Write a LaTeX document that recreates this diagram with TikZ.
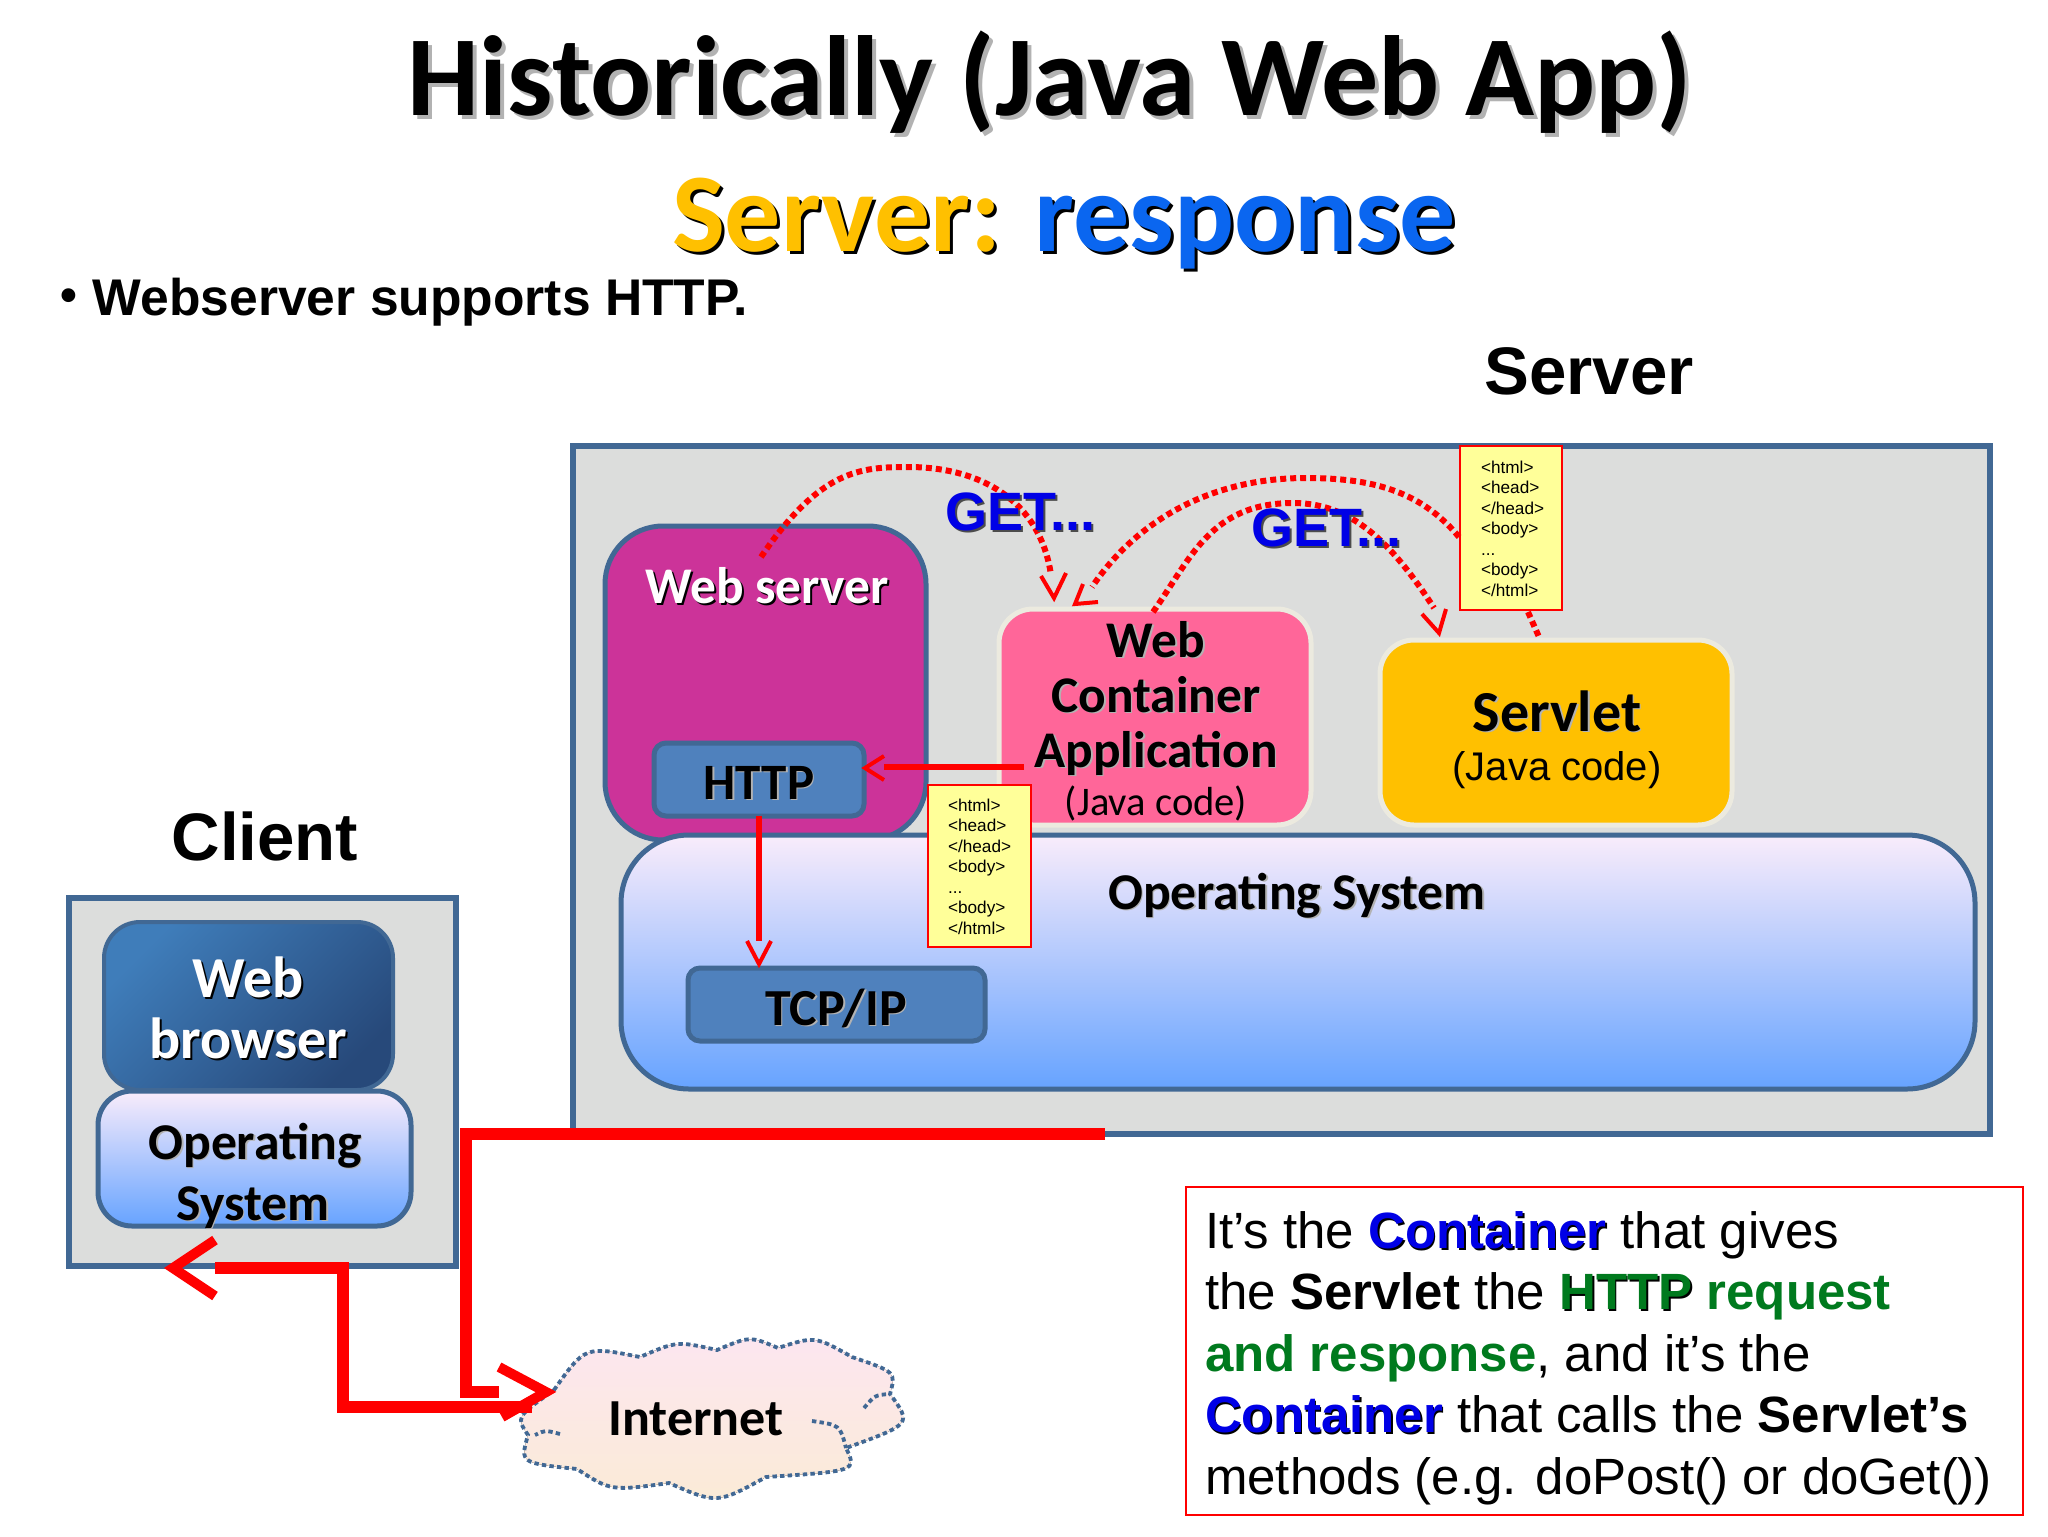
\documentclass[tikz,border=0pt]{standalone}
\usepackage{fontspec}
\usetikzlibrary{fit}
\setmainfont{Liberation Sans}
\newfontfamily\calfont{Carlito}
\definecolor{bord}{HTML}{416894}
\definecolor{panel}{HTML}{DCDDDC}
\definecolor{wsfill}{HTML}{CC3399}
\definecolor{wcfill}{HTML}{FF6699}
\definecolor{slfill}{HTML}{FFC000}
\definecolor{hfill}{HTML}{4F81BD}
\definecolor{osA}{HTML}{F9ECFB}
\definecolor{osB}{HTML}{66A3FF}
\definecolor{docf}{HTML}{FFFF99}
\definecolor{resp}{HTML}{0A66F0}
\definecolor{grn}{HTML}{007A1E}
\definecolor{getb}{HTML}{0000E6}
\definecolor{redl}{HTML}{FF0000}
\definecolor{cream}{HTML}{ECEADF}
\definecolor{brA}{HTML}{3F7DBA}
\definecolor{brB}{HTML}{27497A}
\definecolor{clA}{HTML}{FCE6F0}
\definecolor{clB}{HTML}{FBEBD6}
\newcommand{\shad}[4]{\leavevmode\rlap{\kern#1\raisebox{-#1}{\textcolor{#2}{#4}}}\textcolor{#3}{#4}}
\newcommand{\doclines}{<html>\\<head>\\</head>\\<body>\\...\\<body>\\</html>}
\newcommand{\cloudpath}{(554,1390) .. controls (585,1346) .. (640,1357) .. controls (677,1341) .. (717,1350)
  .. controls (750,1336) .. (778,1348) .. controls (815,1336) .. (852,1357)
  .. controls (896,1372) .. (890,1394) .. controls (912,1424) .. (846,1448)
  .. controls (857,1471) .. (766,1477) .. controls (717,1504) .. (669,1483)
  .. controls (611,1491) .. (577,1469) .. controls (520,1463) .. (528,1435)
  .. controls (516,1417) .. (554,1390) -- cycle}
\tikzset{
  every node/.style={inner sep=0pt,outer sep=0pt},
  px/.style={x=0.5pt,y=-0.5pt},
  panelbox/.style={draw=bord,fill=panel,line width=3pt},
  wsbox/.style={draw=bord,fill=wsfill,line width=2.5pt,rounded corners=29pt},
  softbox/.style={draw=cream,fill=#1,line width=2.5pt,rounded corners=17pt},
  hbox/.style={draw=bord,fill=hfill,line width=2.5pt,rounded corners=6pt},
  osbox/.style={draw=bord,top color=osA,bottom color=osB,line width=2.5pt,rounded corners=#1},
  brbox/.style={draw=bord,top color=brA,bottom color=brB,shading angle=45,line width=2pt,rounded corners=18pt},
  docbox/.style={draw=redl,fill=docf,line width=1.2pt},
  doctext/.style={font=\fontsize{8.6}{10.25}\selectfont,align=left,anchor=north west},
  calb/.style={font=\calfont\bfseries\fontsize{#1}{#1}\selectfont,anchor=base},
  arl/.style={font=\bfseries\fontsize{#1}{#1}\selectfont,anchor=base},
  fatred/.style={draw=redl,line width=6pt},
  wing/.style={draw=redl,line width=2pt},
  thinred/.style={draw=redl,line width=2.6pt},
  dotred/.style={draw=redl,line width=3pt,dash pattern=on 3pt off 2pt},
  clouddot/.style={draw=bord,line width=1.9pt,dash pattern=on 2.2pt off 1.6pt},
}
\begin{document}
\begin{tikzpicture}[px]
\useasboundingbox[fill=white] (0,0) rectangle (2048,1536);
% titles
\node[calb=57] (title) at (1050,115) {\shad{2pt}{black!30}{black}{Historically (Java Web App)}};
\node[calb=56,anchor=base] (sub) at (1064,251) {\shad{1.5pt}{black}{slfill}{Server:} \shad{1.5pt}{black}{resp}{response}};
\node[arl=25.8,anchor=base west] (bullet) at (60,315) {\raisebox{2pt}{\fontsize{24}{24}\selectfont •}\hspace{8pt}Webserver supports HTTP.};
\node[arl=33.6] (serverlabel) at (1589,394) {Server};
\node[arl=33.6] (clientlabel) at (265,860) {Client};
% server
\node[panelbox,fit={(573,446)(1990,1134)}] (server) {};
\node[wsbox,fit={(605,526)(926,840)}] (webserver) {};
\node[osbox=34pt,fit={(621,835)(1975,1089)}] (os) {};
\node[softbox=wcfill,fit={(999,609)(1311,825)}] (container) {};
\node[softbox=slfill,fit={(1380,640)(1732,825)}] (servlet) {};
\node[hbox,fit={(654,743)(864,816)}] (http) {};
\node[hbox,fit={(688,968)(985,1041)}] (tcp) {};
\node[calb=25.7,text=white] (t1) at (767,603) {\shad{1pt}{black}{white}{Web server}};
\node[calb=25.7] (t2) at (1156,657) {\shad{0.8pt}{black!30}{black}{Web}};
\node[calb=25.7] (t3) at (1156,712) {\shad{0.8pt}{black!30}{black}{Container}};
\node[calb=25.7] (t4) at (1156,767) {\shad{0.8pt}{black!30}{black}{Application}};
\node[font=\calfont\fontsize{20.3}{20.3}\selectfont,anchor=base] (t5) at (1156,815) {(Java code)};
\node[calb=25.5] (t6) at (759,799) {\shad{0.8pt}{black!30}{black}{HTTP}};
\node[calb=29] (t7) at (1557,731) {\shad{0.8pt}{black!30}{black}{Servlet}};
\node[font=\fontsize{20}{20}\selectfont,anchor=base] (t8) at (1557,780) {(Java code)};
\node[calb=25.8] (t9) at (1297,909) {\shad{0.8pt}{black!30}{black}{Operating System}};
\node[calb=26] (t10) at (836,1025) {\shad{0.8pt}{black!30}{black}{TCP/IP}};
% client
\node[panelbox,fit={(69,898)(456,1266)}] (client) {};
\node[brbox,fit={(104,922)(393,1090)}] (browser) {};
\node[osbox=17pt,fit={(98,1091)(411,1226)}] (clientos) {};
\node[calb=29] (c1) at (248,997) {\shad{1pt}{black}{white}{Web}};
\node[calb=29] (c2) at (248,1058) {\shad{1pt}{black}{white}{browser}};
\node[calb=25.8] (c3) at (255,1159) {\shad{0.8pt}{black!30}{black}{Operating}};
\node[calb=25.8] (c4) at (253,1220) {\shad{0.8pt}{black!30}{black}{System}};
% cloud
\fill[top color=clA,bottom color=clB] \cloudpath;
\draw[clouddot] \cloudpath;
\draw[clouddot] (812,1421) .. controls (840,1425) .. (846,1448);
\draw[clouddot] (864,1408) .. controls (875,1395) .. (890,1394);
\draw[clouddot] (560,1434) .. controls (545,1430) .. (535,1435);
\node[calb=26] (internet) at (696,1435) {Internet};
\coordinate (inTip) at (546,1392);
% thick red
\coordinate (hStart) at (1105,1134);
\coordinate (hCorner) at (466,1134);
\coordinate (hDown) at (466,1392);
\coordinate (hEnd) at (499,1392);
\draw[fatred,miter limit=10] (hStart) -- (hCorner) -- (hDown) -- (hEnd);
\coordinate (cTip) at (173,1268);
\coordinate (cStart) at (215,1268);
\draw[fatred] (cStart) -- (343,1268) -- (343,1407) -- (532,1407);
\draw[fatred,line width=5pt] (215,1240) -- (cTip) -- (215,1296);
\draw[fatred,line width=5pt] (499,1367) -- (inTip) -- (502,1417);
% thin red
\coordinate (htB) at (884,767);
\coordinate (htTip) at (865,768);
\draw[thinred] (1024,767) -- (htB);
\draw[wing] (884,756) -- (htTip) -- (884,780);
\coordinate (tcpEnd) at (759,941);
\coordinate (tcpTip) at (759,964);
\draw[thinred] (http.south) -- (tcpEnd);
\draw[wing] (747,941) -- (tcpTip) -- (771,941);
% docs
\node[docbox,fit={(928,785)(1031,947)}] (doc1) {};
\node[docbox,fit={(1460,446)(1562,610)}] (doc2) {};
\node[doctext] (d1t) at (948,799) {\doclines};
\node[doctext] (d2t) at (1481,461) {\doclines};
% dotted
\draw[dotred] (761,557) .. controls (820,470) and (860,467) .. (908,467) .. controls (980,467) and (1040,500) .. (1051,575);
\draw[wing] (1041,576) -- (1054,598) -- (1066,573);
\draw[dotred] (1459,537) .. controls (1420,490) and (1370,478) .. (1306,478) .. controls (1200,478) and (1130,530) .. (1092,587);
\draw[wing] (1098,602) -- (1075,604) -- (1083,584);
\draw[dotred] (1153,612) .. controls (1190,560) and (1210,503) .. (1293,503) .. controls (1350,503) and (1390,540) .. (1434,608);
\draw[wing] (1422,614) -- (1439,633) -- (1446,609);
\draw[dotred] (1528,612) -- (1539,637);
\node[arl=27] (get1) at (1020,530) {\shad{1pt}{black!70}{getb}{GET...}};
\node[arl=27] (get2) at (1326,546) {\shad{1pt}{black!70}{getb}{GET...}};
% text box
\node[draw=redl,line width=1.2pt,fit={(1186,1187)(2023,1515)}] (note) {};
\node[font=\fontsize{25.5}{30.7}\selectfont,align=left,anchor=base west] (notetext) at (1205,1494) {%
It’s the \shad{0.8pt}{black}{getb}{\bfseries Container} that gives\\
the {\bfseries Servlet} the \shad{0.8pt}{black}{grn}{\bfseries HTTP} \textcolor{grn}{\bfseries request}\\
\textcolor{grn}{\bfseries and response}, and it’s the\\
\shad{0.8pt}{black}{getb}{\bfseries Container} that calls the {\bfseries Servlet’s}\\
methods (e.g. doPost() or doGet())};
\end{tikzpicture}
\end{document}
